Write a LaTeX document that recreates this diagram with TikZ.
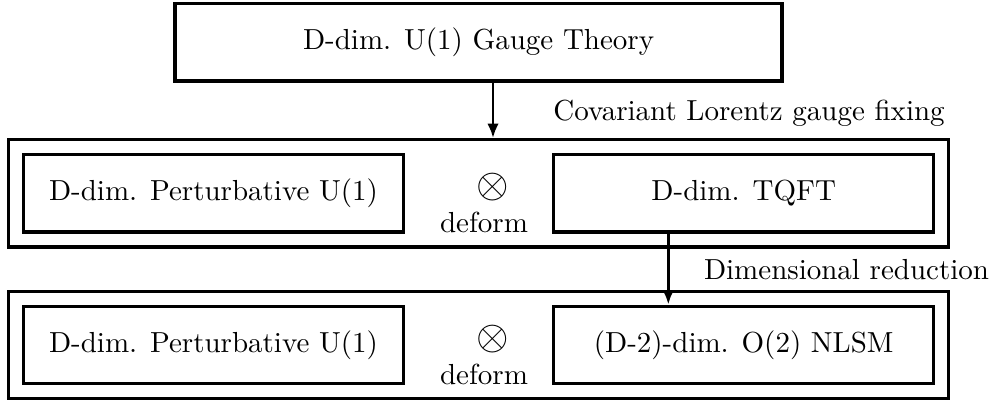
\documentclass[tikz,border=0pt]{standalone}
\usetikzlibrary{arrows.meta,fit,positioning}
\tikzset{theory/.style = {draw, line width=1.15pt, inner sep=0pt,
  minimum width=131pt, minimum height=26.7pt}}
\tikzset{frame/.style = {draw, line width=1.15pt, inner sep=4.6pt}}
\tikzset{flow/.style = {-{Latex[length=5pt,width=4pt]}, line width=0.95pt}}

\begin{document}
\begin{tikzpicture}
  \useasboundingbox (0,0) rectangle (343.1pt,-137.9pt);
  % middle row
  \node[theory] (pert1) at (73.6pt,-66.7pt) {D-dim. Perturbative U(1)};
  \node[theory, right = 50.7pt of pert1] (tqft) {D-dim. TQFT};
  \node (tensorA) at (170pt,-64.5pt) {\Large$\otimes$};
  \node (deformA) at (166.9pt,-76.6pt) {deform};
  \node[frame, fit = (pert1) (tqft)] (midframe) {};
  % bottom row
  \node[theory, below = 24.4pt of pert1] (pert2) {D-dim. Perturbative U(1)};
  \node[theory, below = 24.4pt of tqft] (nlsm) {(D-2)-dim. O(2) NLSM};
  \node (tensorB) at (170pt,-116.9pt) {\Large$\otimes$};
  \node (deformB) at (166.9pt,-129pt) {deform};
  \node[frame, fit = (pert2) (nlsm)] (botframe) {};
  % top
  \node[theory, minimum width=209.3pt, above = 19.1pt of midframe] (top)
    {D-dim. U(1) Gauge Theory};
  \draw[flow] (top.south -| tensorA) -- (tensorA |- midframe.north);
  \node (gflabel) at (258.3pt,-39pt) {Covariant Lorentz gauge fixing};
  \draw[flow] ([xshift=-26pt]tqft.south) -- ([xshift=-26pt]nlsm.north);
  \node (dimlabel) at (291.9pt,-92.8pt) {Dimensional reduction};
\end{tikzpicture}
\end{document}
